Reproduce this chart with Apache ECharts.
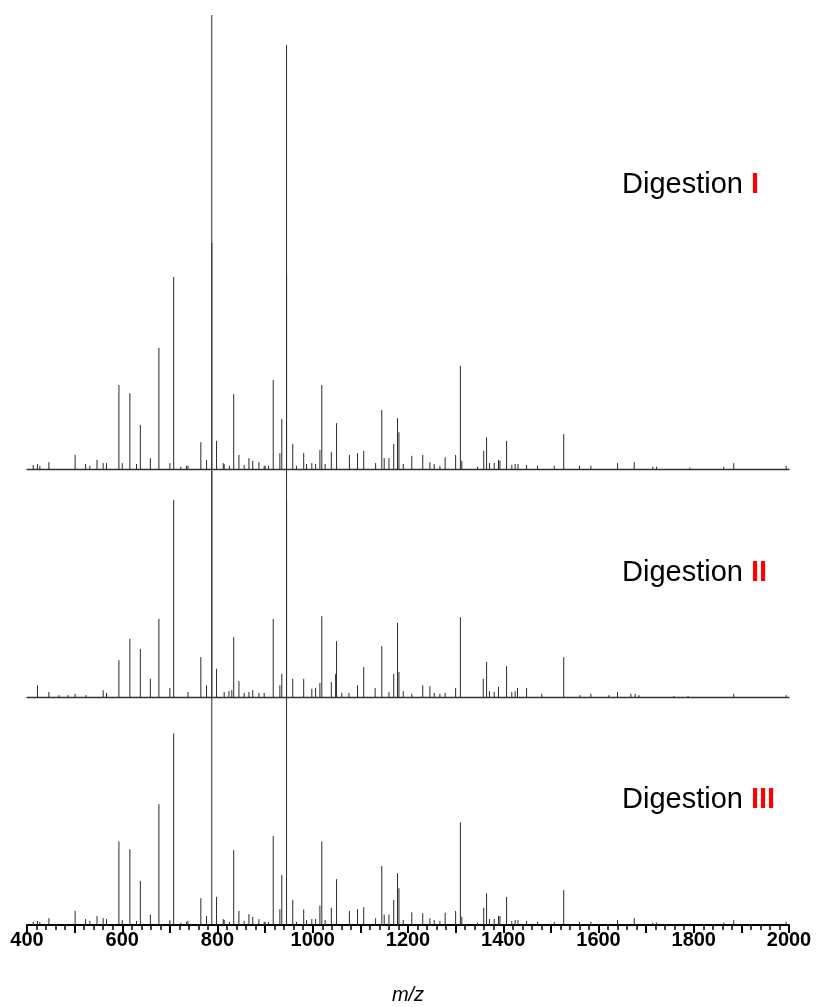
<!DOCTYPE html>
<html>
<head>
<meta charset="utf-8">
<script src="https://cdn.jsdelivr.net/npm/echarts@6/dist/echarts.min.js"></script>
<style>
html,body{margin:0;padding:0;background:#fff;}
#chart{width:820px;height:1007px;}
</style>
</head>
<body>
<div id="chart"></div>
<script>
// Spectrum I (top): m/z and relative intensity (%)
const mz1 = [413,422,427,446,501,523,532,547,560,567,593,600,616,630,638,659,677,700,708,723,735,738,765,777,788,798,812,814,825,834,845,856,866,874,887,898,900,907,917,931,935,945,958,966,981,987,998,1006,1015,1019,1026,1039,1050,1077,1094,1107,1132,1145,1150,1160,1170,1178,1181,1190,1208,1231,1246,1255,1267,1278,1300,1310,1313,1346,1359,1365,1371,1381,1390,1393,1407,1418,1425,1431,1449,1472,1507,1527,1560,1584,1640,1675,1714,1722,1792,1863,1884,1994];
const int1 = [0.9,1.1,0.7,1.5,3.1,1.1,0.7,2.0,1.3,1.3,18.5,1.3,16.7,1.1,9.7,2.4,26.7,1.3,42.3,0.5,0.7,0.7,5.9,2.0,100,6.2,1.3,1.1,0.7,16.5,3.1,0.9,2.4,1.8,1.5,0.7,0.7,0.7,19.6,3.5,11.0,93.4,5.5,0.7,3.5,1.1,1.3,1.1,4.2,18.5,1.1,3.7,10.1,3.1,3.5,4.0,1.3,13.0,2.4,2.4,5.5,11.2,8.1,1.1,2.9,3.1,1.5,1.1,0.7,2.6,3.1,22.7,1.8,0.5,4.0,7.0,1.3,1.3,2.0,1.8,6.2,0.9,1.1,1.1,0.9,0.7,0.7,7.7,0.7,0.7,1.3,1.5,0.5,0.5,0.3,0.5,1.3,0.7];

// Spectrum II (middle)
const mz2 = [422,446,467,486,501,524,560,567,593,616,638,659,677,700,708,738,765,777,788,798,814,824,830,834,845,856,866,874,887,898,917,931,935,945,958,981,998,1006,1015,1019,1039,1048,1050,1061,1076,1094,1107,1131,1145,1160,1170,1178,1181,1190,1208,1231,1246,1255,1267,1278,1300,1310,1358,1365,1371,1381,1390,1407,1418,1425,1430,1449,1481,1527,1561,1584,1622,1640,1668,1677,1685,1758,1788,1884,1994];
const int2 = [2.6,1.1,0.4,0.4,0.7,0.4,1.5,0.9,8.1,12.8,10.6,4.0,17.2,2.0,43.4,1.1,8.8,2.6,100,6.2,1.1,1.3,1.5,13.2,3.5,0.9,1.1,1.5,0.9,0.9,17.2,2.6,5.1,93,4.0,4.0,1.8,2.0,3.1,17.8,3.3,5.1,12.3,0.9,0.9,2.6,6.6,2.0,11.2,1.1,5.1,16.3,5.5,1.3,0.7,2.6,2.4,0.9,0.7,0.9,2.0,17.6,4.0,7.7,1.3,1.1,2.2,6.8,1.1,1.3,2.0,2.0,0.7,8.8,0.4,0.7,0.4,1.1,0.7,0.7,0.4,0.2,0.2,0.7,0.4];

// Spectrum III (bottom)
const mz3 = [413,422,427,446,501,523,532,547,560,567,593,600,616,630,638,659,677,700,708,723,735,738,765,777,788,798,812,814,825,834,845,856,866,874,887,898,900,907,917,931,935,945,958,966,981,987,998,1006,1015,1019,1026,1039,1050,1077,1094,1107,1132,1145,1150,1160,1170,1178,1181,1190,1208,1231,1246,1255,1267,1278,1300,1310,1313,1346,1359,1365,1371,1381,1390,1393,1407,1418,1425,1431,1449,1472,1507,1527,1560,1584,1640,1675,1714,1722,1792,1863,1884,1994];
const int3 = [0.7,0.9,0.7,1.5,3.1,1.3,0.9,2.0,1.5,1.3,18.4,1.1,16.7,0.9,9.7,2.3,26.6,1.1,42.2,0.5,0.7,0.9,5.9,2.0,100,6.2,1.3,1.1,0.7,16.5,3.1,0.9,2.4,1.8,1.3,0.7,0.7,0.7,19.6,3.5,11.0,93.4,5.5,0.7,3.4,1.1,1.3,1.3,4.3,18.4,1.1,3.8,10.1,3.1,3.5,3.9,1.5,13.0,2.3,2.3,5.5,11.4,8.1,1.1,2.8,2.6,1.5,1.1,0.9,2.7,3.1,22.6,1.8,0.5,3.8,7.0,1.3,1.3,2.0,2.0,6.2,0.9,1.1,1.1,0.9,0.7,0.7,7.7,0.7,0.7,1.1,1.5,0.5,0.5,0.3,0.5,1.1,0.7];

const labels = ['I','II','III'];
const xTickLabels = [400,600,800,1000,1200,1400,1600,1800,2000];

const chart = echarts.init(document.getElementById('chart'), null, {renderer:'canvas'});
const gridTops = [15, 243, 471];
const grids = gridTops.map(t => ({left:27, right:31, top:t, height:454}));
const FONT = '"Liberation Sans", Arial, sans-serif';

const xAxes = [0,1,2].map(i => {
  const last = i === 2;
  return {
    type:'value', gridIndex:i, min:400, max:2000, interval:100,
    axisLine:{show:true, onZero:false, lineStyle:{color: last ? '#000' : '#333', width: last ? 2 : 1.3}},
    axisTick:{show:last, length:8, lineStyle:{color:'#000', width:2}},
    minorTick:{show:last, splitNumber:5, length:5, lineStyle:{color:'#000', width:1.5}},
    axisLabel:{show:last, margin:5, fontFamily:FONT, fontWeight:'bold', fontSize:20, color:'#000',
      formatter: v => xTickLabels.indexOf(v) >= 0 ? String(v) : ''},
    splitLine:{show:false},
    name: last ? 'm/z' : '',
    nameLocation:'middle', nameGap:60,
    nameTextStyle:{fontFamily:FONT, fontStyle:'italic', fontSize:20, color:'#000'}
  };
});
const yAxes = [0,1,2].map(i => ({type:'value', gridIndex:i, min:0, max:100, show:false}));

function stick(params, api){
  const x = api.value(0), h = api.value(1);
  const p0 = api.coord([x, 0]);
  const p1 = api.coord([x, h]);
  return {
    type:'line',
    shape:{x1:p0[0], y1:p0[1], x2:p1[0], y2:p1[1]},
    style:{stroke:'#2a2a2a', lineWidth:1}
  };
}

const data = [[mz1,int1],[mz2,int2],[mz3,int3]];
const series = data.map((d,i) => ({
  type:'custom', xAxisIndex:i, yAxisIndex:i,
  data: d[0].map((m,k) => [m, d[1][k]]),
  encode:{x:0, y:1},
  renderItem: stick, clip:false, silent:true, animation:false, z:2
}));

const labelY = [185, 573, 800];
const graphic = labels.map((l,i) => ({
  type:'text', x:622, y:labelY[i],
  style:{
    text:'{a|Digestion }{b|' + l + '}',
    verticalAlign:'middle', align:'left',
    rich:{
      a:{fontSize:29, fontFamily:FONT, fill:'#000'},
      b:{fontSize:29, fontFamily:FONT, fontWeight:'bold', fill:'#ff0000'}
    }
  }
}));

chart.setOption({
  animation:false,
  backgroundColor:'#fff',
  grid: grids,
  xAxis: xAxes,
  yAxis: yAxes,
  series: series,
  graphic: graphic
});
</script>
</body>
</html>
